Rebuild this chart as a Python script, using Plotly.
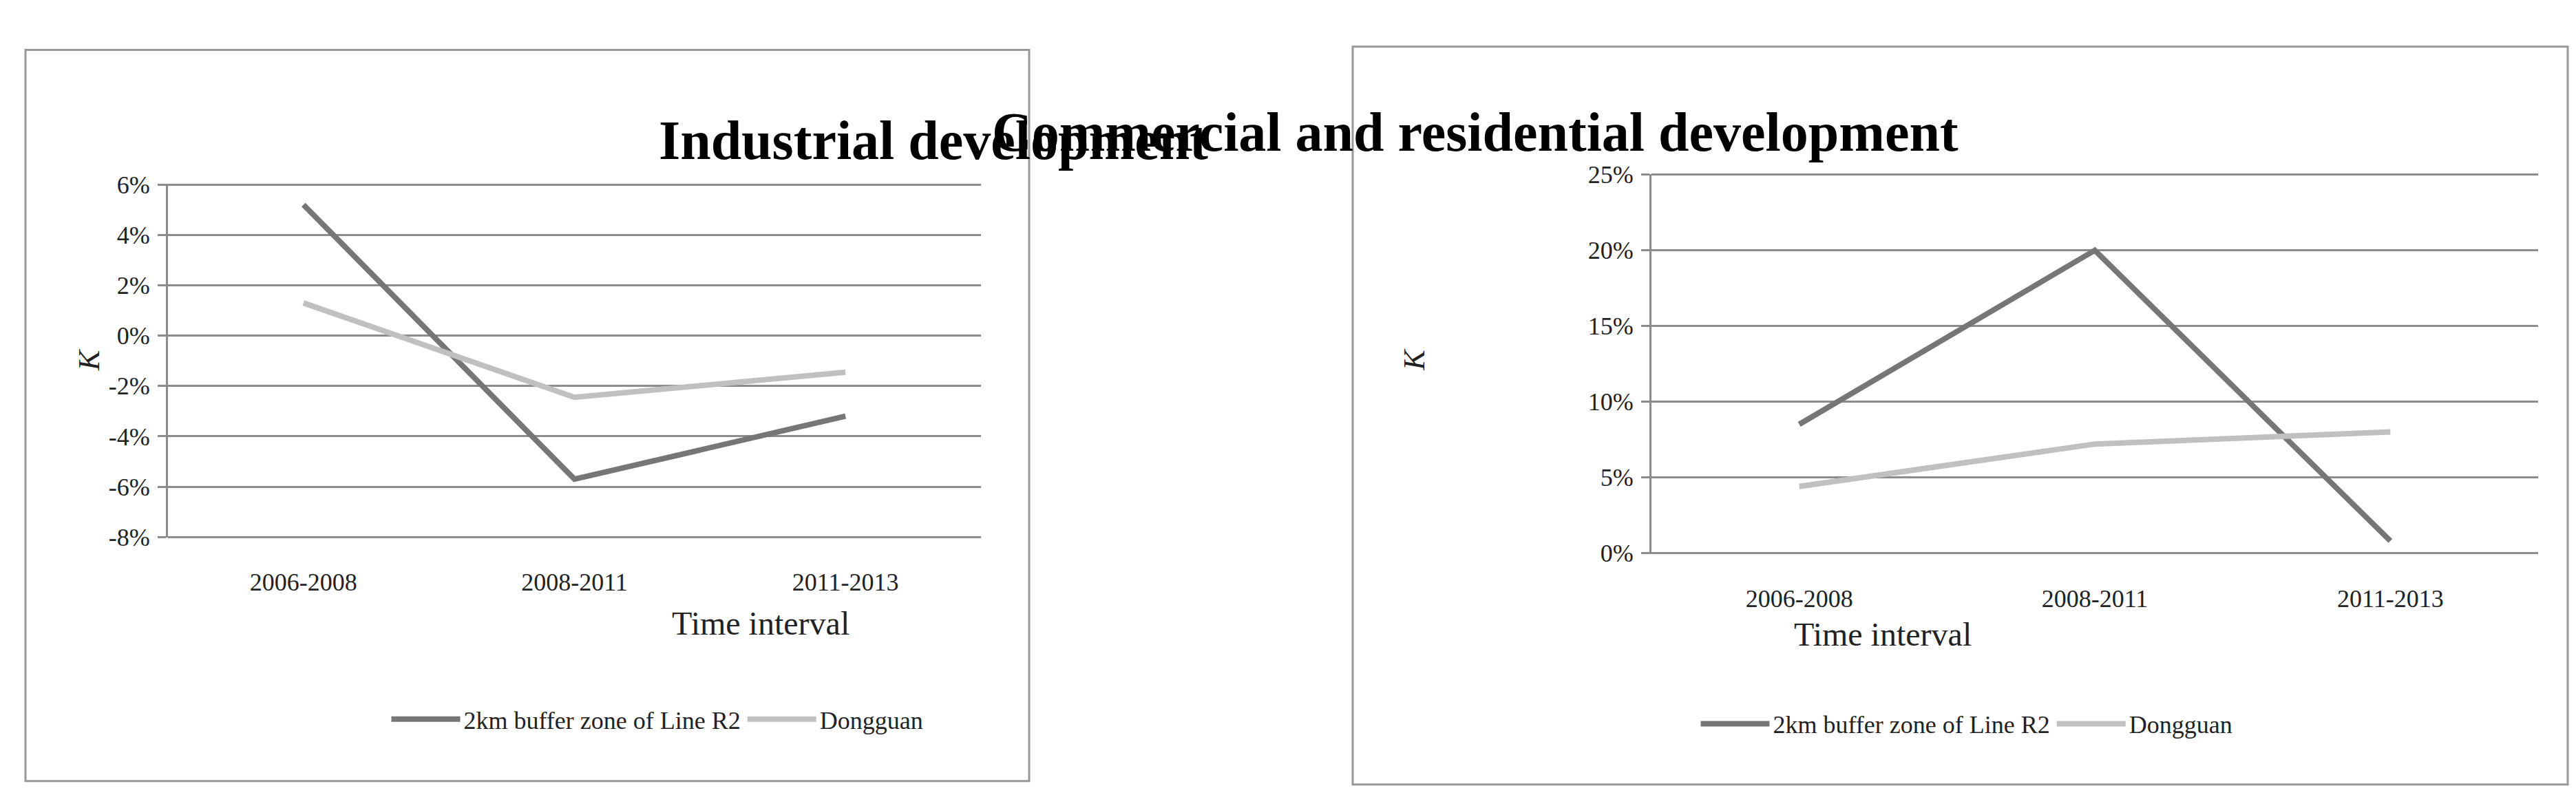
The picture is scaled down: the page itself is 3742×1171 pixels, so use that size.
import plotly.graph_objects as go

categories = ["2006-2008", "2008-2011", "2011-2013"]
ind_buffer = [5.2, -5.7, -3.2]
ind_dongguan = [1.3, -2.45, -1.45]
com_buffer = [8.5, 20.0, 0.8]
com_dongguan = [4.4, 7.2, 8.0]
series_names = ["2km buffer zone of Line R2", "Dongguan"]
ind_ticks = [6, 4, 2, 0, -2, -4, -6, -8]
ind_ticktext = ["6%", "4%", "2%", "0%", "-2%", "-4%", "-6%", "-8%"]
com_ticks = [25, 20, 15, 10, 5, 0]
com_ticktext = ["25%", "20%", "15%", "10%", "5%", "0%"]

W, H = 3742, 1171
DARK, LIGHT, GRID = "#767676", "#c0c0c0", "#8c8c8c"
FONT = "Liberation Serif"

def px(v): return v / W
def py(v): return 1 - v / H

fig = go.Figure()
fig.add_trace(go.Scatter(x=categories, y=ind_buffer, name=series_names[0], mode="lines",
                         line=dict(color=DARK, width=8), xaxis="x", yaxis="y", legend="legend"))
fig.add_trace(go.Scatter(x=categories, y=ind_dongguan, name=series_names[1], mode="lines",
                         line=dict(color=LIGHT, width=8), xaxis="x", yaxis="y", legend="legend"))
fig.add_trace(go.Scatter(x=categories, y=com_buffer, name=series_names[0], mode="lines",
                         line=dict(color=DARK, width=8), xaxis="x2", yaxis="y2", legend="legend2"))
fig.add_trace(go.Scatter(x=categories, y=com_dongguan, name=series_names[1], mode="lines",
                         line=dict(color=LIGHT, width=8), xaxis="x2", yaxis="y2", legend="legend2"))

tickfont = dict(family=FONT, size=36, color="#222")
xcommon = dict(type="category", range=[-0.5, 2.5], showgrid=False, showline=False, zeroline=False,
               ticks="", tickfont=tickfont, ticklabelstandoff=40)
ycommon = dict(showgrid=True, gridcolor=GRID, gridwidth=3, showline=True, linecolor=GRID, linewidth=3,
               zeroline=False, ticks="outside", ticklen=12, tickcolor=GRID, tickwidth=3,
               tickfont=tickfont, ticklabelstandoff=4)
legfont = dict(family=FONT, size=36, color="#222")

fig.update_layout(
    width=W, height=H, margin=dict(l=0, r=0, t=0, b=0),
    paper_bgcolor="white", plot_bgcolor="white",
    xaxis=dict(domain=[px(236), px(1417)], anchor="y", **xcommon),
    yaxis=dict(domain=[py(780), py(249)], anchor="x", range=[-8.03, 6.03],
               tickvals=ind_ticks, ticktext=ind_ticktext, **ycommon),
    xaxis2=dict(domain=[px(2391), px(3679)], anchor="y2", **xcommon),
    yaxis2=dict(domain=[py(804), py(234)], anchor="x2", range=[-0.05, 25.05],
                tickvals=com_ticks, ticktext=com_ticktext, **ycommon),
    legend=dict(orientation="h", x=px(947), y=py(1052), xanchor="center", yanchor="middle",
                font=legfont, itemwidth=100, tracegroupgap=60),
    legend2=dict(orientation="h", x=px(2849), y=py(1059), xanchor="center", yanchor="middle",
                 font=legfont, itemwidth=100),
    showlegend=True,
    shapes=[
        dict(type="rect", xref="paper", yref="paper", x0=px(29), x1=px(1487), y0=py(1145), y1=py(48),
             line=dict(color="#999", width=3)),
        dict(type="rect", xref="paper", yref="paper", x0=px(1957), x1=px(3722), y0=py(1150), y1=py(43),
             line=dict(color="#999", width=3)),
    ],
    annotations=[
        dict(text="<b>Industrial development</b>", x=px(947), y=py(136), xref="paper", yref="paper",
             showarrow=False, font=dict(family=FONT, size=80, color="black")),
        dict(text="<b>Commercial and residential development</b>", x=px(2839), y=py(124), xref="paper",
             yref="paper", showarrow=False, font=dict(family=FONT, size=80, color="black")),
        dict(text="<i>K</i>", x=px(95), y=py(513), xref="paper", yref="paper", textangle=-90,
             showarrow=False, font=dict(family=FONT, size=44, color="#222")),
        dict(text="<i>K</i>", x=px(2047), y=py(513), xref="paper", yref="paper", textangle=-90,
             showarrow=False, font=dict(family=FONT, size=44, color="#222")),
        dict(text="Time interval", x=px(966), y=py(938), xref="paper", yref="paper",
             showarrow=False, font=dict(family=FONT, size=48, color="#222")),
        dict(text="Time interval", x=px(2858), y=py(954), xref="paper", yref="paper",
             showarrow=False, font=dict(family=FONT, size=48, color="#222")),
    ],
)
fig.write_html("out.html")
